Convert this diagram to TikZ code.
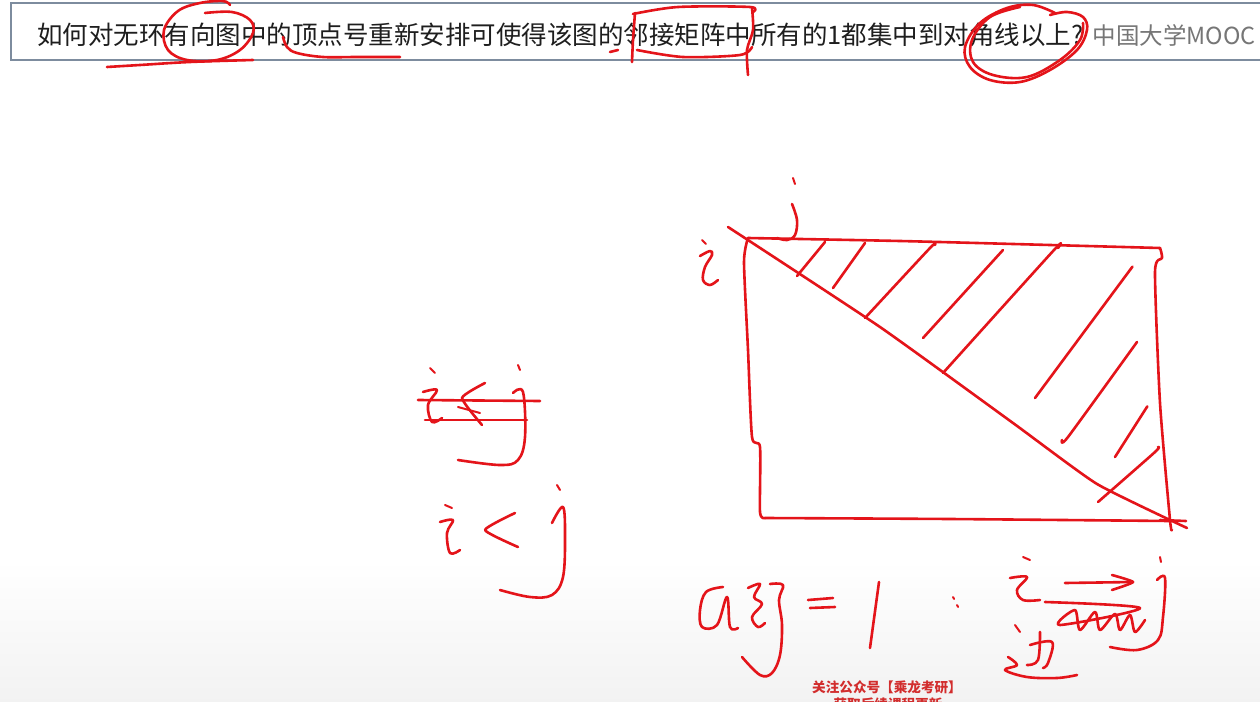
\documentclass[tikz,border=0pt]{standalone}
\usepackage{fontspec}
\newfontfamily\cjk{Noto Sans CJK SC}
\definecolor{penred}{RGB}{228,20,26}
\definecolor{qtext}{RGB}{30,30,30}
\definecolor{boxline}{RGB}{125,140,158}
\definecolor{moocgray}{RGB}{118,118,118}
\definecolor{wmred}{RGB}{210,45,45}
\begin{document}
\begin{tikzpicture}[x=1pt,y=-1pt,
  pen/.style={draw=penred,line width=2.6pt,line cap=round,line join=round},
  thinpen/.style={pen,line width=2pt}]
\useasboundingbox (0,0) rectangle (1260,701);
\clip (0,0) rectangle (1260,701);
\fill[white] (0,0) rectangle (1260,701);
\shade[top color=white,bottom color=black!5] (0,560) rectangle (1260,701);

% ---------- header ----------
\draw[boxline,line width=1.4pt,fill=white] (11,3) rectangle (1264,60);
\node[anchor=west,inner sep=0,text=qtext,font=\cjk\fontsize{25.5}{30}\selectfont] (q) at (37,35)
  {如何对无环有向图中的顶点号重新安排可使得该图的邻接矩阵中所有的1都集中到对角线以上?};
\node[anchor=east,inner sep=0,text=moocgray,font=\cjk\fontsize{23.5}{28}\selectfont] (mooc) at (1256,35)
  {中国大学MOOC};

% header annotations
\draw[pen] plot[smooth,tension=0.6] coordinates {(230,5) (223,1) (200,3) (178,11) (164,30) (168,50) (187,60) (217,60) (240,50) (253,33) (250,20) (232,12) (205,13)};
\draw[pen] plot[smooth,tension=0.6] coordinates {(107,67) (140,65) (190,62) (253,60)};
\draw[pen] plot[smooth,tension=0.6] coordinates {(283,37) (287,47) (297,53) (323,57) (357,57) (400,57)};
\draw[pen] plot[smooth,tension=0.5] coordinates {(633,14) (678,7) (750,7) (753,12)};
\draw[pen] plot[smooth,tension=0.5] coordinates {(752,8) (753,30) (747,50) (748,75)};
\draw[pen] plot[smooth,tension=0.5] coordinates {(635,13) (633,40) (632,62)};
\draw[pen] plot[smooth,tension=0.5] coordinates {(637,50) (683,57) (740,55) (752,47)};
\draw[pen] (610,52) -- (618,50);
\draw[pen] plot[smooth,tension=0.6] coordinates {(1055,13) (1033,5) (1007,8) (980,23) (965,47) (970,67) (990,80) (1020,82) (1050,70) (1077,50) (1087,30) (1083,17) (1067,12) (1050,15)};
\draw[pen] plot[smooth,tension=0.6] coordinates {(1020,7) (990,17) (972,40) (973,62) (993,75) (1027,77) (1060,60) (1080,40) (1083,23)};

% ---------- matrix sketch ----------
\draw[pen] plot[smooth,tension=0.4] coordinates {(748,238) (900,241) (1050,245) (1160,248)};
\draw[pen] plot[smooth,tension=0.4] coordinates {(748,238) (744,262) (748,350) (752,437) (760,447) (760,512) (765,518)};
\draw[pen] plot[smooth,tension=0.4] coordinates {(765,518) (950,519) (1170,521)};
\draw[pen] plot[smooth,tension=0.4] coordinates {(1160,248) (1162,258) (1155,272) (1160,403) (1170,520) (1172,530)};
\draw[pen] (1160,520) -- (1186,521);
\draw[pen] plot[smooth,tension=0.3] coordinates {(728,227) (880,327) (1013,423) (1097,484) (1187,528)};

% hatching
\draw[pen] (797,276) -- (825,242);
\draw[pen] (833,288) -- (865,243);
\draw[pen] plot[smooth,tension=0.4] coordinates {(865,318) (930,248) (935,245)};
\draw[pen] (923,338) -- (1003,250);
\draw[pen] plot[smooth,tension=0.4] coordinates {(943,373) (1054,250) (1058,248)};
\draw[pen] plot[smooth,tension=0.4] coordinates {(1035,398) (1127,274) (1130,270)};
\draw[pen] plot[smooth,tension=0.4] coordinates {(1062,440) (1068,437) (1137,342)};
\draw[pen] plot[smooth,tension=0.4] coordinates {(1115,457) (1145,410) (1147,407)};
\draw[pen] plot[smooth,tension=0.4] coordinates {(1098,502) (1155,452) (1158,447)};

% i and j labels
\draw[thinpen] (702,240) -- (706,244);
\draw[pen] plot[smooth,tension=0.6] coordinates {(700,256) (710,251) (712,255) (705,267) (703,280) (710,285) (718,280)};
\draw[thinpen] (793,178) -- (795,184);
\draw[pen] plot[smooth,tension=0.6] coordinates {(792,204) (797,220) (795,235) (787,240) (777,238)};

% ---------- crossed-out i<j ----------
\draw[thinpen] (430,368) -- (435,373);
\draw[pen] plot[smooth,tension=0.6] coordinates {(423,392) (437,390) (428,405) (432,422) (442,418)};
\draw[pen] plot[smooth,tension=0.3] coordinates {(485,383) (462,398) (482,425)};
\draw[thinpen] (458,407) -- (480,413);
\draw[thinpen] (518,365) -- (520,370);
\draw[pen] plot[smooth,tension=0.6] coordinates {(513,393) (523,392) (525,437) (518,460) (500,465) (458,460)};
\draw[pen] (418,400) -- (540,401);
\draw[pen] (425,420) -- (527,420);

% ---------- i<j ----------
\draw[thinpen] (445,505) -- (452,508);
\draw[pen] plot[smooth,tension=0.6] coordinates {(440,522) (453,520) (447,533) (450,553) (460,550)};
\draw[pen] plot[smooth,tension=0.3] coordinates {(515,513) (485,530) (518,547)};
\draw[thinpen] (557,485) -- (560,490);
\draw[pen] plot[smooth,tension=0.6] coordinates {(552,523) (563,507) (565,537) (563,577) (552,595) (530,597) (500,590)};

% ---------- aij = 1 : i -> j ----------
\draw[pen] plot[smooth,tension=0.6] coordinates {(723,587) (706,592) (700,610) (702,627) (717,625) (727,597) (730,627) (738,628)};
\draw[pen] plot[smooth,tension=0.6] coordinates {(748,588) (760,584) (754,597) (762,604) (752,617) (758,627) (765,623)};
\draw[pen] plot[smooth,tension=0.6] coordinates {(770,584) (783,585) (779,600) (782,625) (780,655) (772,673) (760,675) (742,657)};
\draw[pen] (808,600) -- (833,598);
\draw[pen] (810,608) -- (835,607);
\draw[pen] (879,582) -- (870,648);
\draw[thinpen] (953,597) -- (954,599);
\draw[thinpen] (957,605) -- (958,607);
\draw[thinpen] (1023,557) -- (1030,560);
\draw[pen] plot[smooth,tension=0.6] coordinates {(1010,578) (1027,577) (1017,590) (1023,600) (1040,600)};
\draw[pen] (1065,583) -- (1133,582);
\draw[pen] plot[smooth,tension=0.3] coordinates {(1112,575) (1133,582) (1112,590)};
\draw[thinpen] (1160,557) -- (1161,562);
\draw[pen] plot[smooth,tension=0.6] coordinates {(1157,580) (1165,578) (1163,617) (1158,640) (1137,650) (1110,647)};
\draw[pen] plot[smooth,tension=0.5] coordinates {(1045,602) (1140,608) (1060,625) (1075,610) (1080,630) (1095,612) (1100,630) (1115,614) (1120,630) (1130,615) (1135,632) (1145,620)};
% 边
\draw[thinpen] (1015,625) -- (1020,632);
\draw[pen] plot[smooth,tension=0.6] coordinates {(1030,645) (1052,642) (1048,663) (1043,668)};
\draw[pen] plot[smooth,tension=0.6] coordinates {(1040,632) (1038,660) (1027,665)};
\draw[pen] plot[smooth,tension=0.6] coordinates {(1008,657) (1017,665) (1005,670) (1027,677) (1057,678) (1077,675)};

% ---------- watermark ----------
\node[inner sep=0,text=wmred,font=\cjk\bfseries\fontsize{13.6}{16}\selectfont] (wm1) at (887,687) {关注公众号【乘龙考研】};
\node[inner sep=0,text=wmred,font=\cjk\bfseries\fontsize{13.6}{16}\selectfont] (wm2) at (888,704) {获取后续课程更新};
\end{tikzpicture}
\end{document}
